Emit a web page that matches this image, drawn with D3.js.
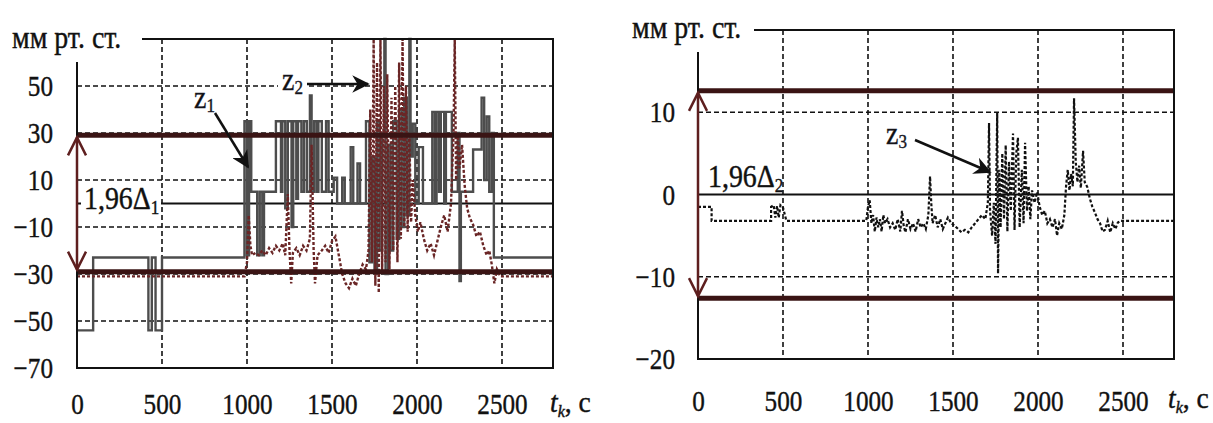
<!DOCTYPE html>
<html>
<head>
<meta charset="utf-8">
<script src="https://cdn.jsdelivr.net/npm/d3@7"></script>
<style>
  body { margin: 0; background: #fff; }
  svg text { font-family: "Liberation Serif", "Times New Roman", serif !important; fill: #111; }
</style>
</head>
<body>
<svg id="chart" width="1213" height="423"></svg>
<script>
// ---- data (t in seconds, pressure in mm Hg) ----
const xTicks = [0, 500, 1000, 1500, 2000, 2500];
const leftYTicks = [-70, -50, -30, -10, 10, 30, 50];
const rightYTicks = [-20, -10, 0, 10];

// confidence band +-1,96 delta
const band1 = 29;
const band2 = 12.6;

// z1 - solid grey step signal (left)
const z1Points = [
  [0,-54],[95,-54],[95,-23],[420,-23],[420,-54],[440,-54],[440,-23],[462,-23],[462,-54],[500,-54],[500,-23],[985,-23],
  [985,35],[1000,35],[1000,-22],[1012,-22],[1012,35],[1025,35],[1025,5],[1060,5],[1060,-22],[1075,-22],[1075,5],
  [1090,5],[1090,-22],[1100,-22],[1100,5],[1170,5],[1170,35],[1200,35],[1200,5],[1208,5],[1208,35],[1225,35],
  [1225,-2],[1240,-2],[1240,35],[1262,35],[1262,-10],[1272,-10],[1272,35],[1290,35],[1290,2],[1300,2],[1300,35],
  [1320,35],[1320,5],[1335,5],[1335,35],[1352,35],[1352,5],[1370,5],[1370,46],[1380,46],[1380,5],[1395,5],
  [1395,35],[1410,35],[1410,5],[1420,5],[1420,35],[1440,35],[1440,5],[1465,5],[1465,35],[1480,35],[1480,5],
  [1510,5],[1510,11],[1530,11],[1530,0],[1560,0],[1560,11],[1575,11],[1575,0],[1610,0],[1610,24],[1625,24],
  [1625,0],[1650,0],[1650,17],[1665,17],[1665,0],[1700,0],[1700,35],[1720,35],[1720,-25],[1735,-25],[1735,20],
  [1750,20],[1750,-28],[1765,-28],[1765,35],[1780,35],[1780,-20],[1795,-20],[1795,30],[1808,30],[1808,70],
  [1815,70],[1815,-30],[1830,-30],[1830,25],[1845,25],[1845,-20],[1860,-20],[1860,35],[1880,35],[1880,-15],
  [1895,-15],[1895,40],[1910,40],[1910,-10],[1925,-10],[1925,45],[1940,45],[1940,-5],[1955,-5],[1955,70],
  [1962,70],[1962,20],[1975,20],[1975,34],[1990,34],[1990,0],[2010,0],[2010,24],[2035,24],[2035,0],[2090,0],
  [2090,39],[2105,39],[2105,0],[2115,0],[2115,39],[2130,39],[2130,5],[2140,5],[2140,39],[2160,39],[2160,0],
  [2170,0],[2170,39],[2205,39],[2205,5],[2240,5],[2240,30],[2250,30],[2250,-33],[2258,-33],[2258,5],[2330,5],
  [2330,23],[2380,23],[2380,45],[2395,45],[2395,10],[2410,10],[2410,37],[2425,37],[2425,5],[2440,5],[2440,30],
  [2452,30],[2452,-23],[2800,-23]
];

// z2 - dotted maroon signal (left)
const z2Points = [
  [0,-31],[985,-31],[1000,-25],[1010,-5],[1020,-18],[1030,-22],[1050,-21],[1070,-22],[1090,-20],[1110,-22],
  [1130,-19],[1150,-21],[1170,-18],[1190,-20],[1210,-17],[1225,-22],[1240,4],[1250,-20],[1260,-34],[1270,-21],
  [1290,-19],[1310,-22],[1330,-18],[1350,-20],[1370,-15],[1380,25],[1392,-20],[1400,-34],[1415,-22],[1440,-20],
  [1460,-18],[1480,-21],[1500,-16],[1520,-14],[1540,-22],[1560,-30],[1580,-34],[1600,-36],[1620,-32],[1640,-35],
  [1660,-30],[1680,-26],[1700,-28],[1715,-20],[1725,40],[1735,-25],[1745,70],[1755,-35],[1765,60],[1775,-38],
  [1785,70],[1795,-30],[1805,50],[1815,-25],[1825,55],[1838,-28],[1850,45],[1860,-20],[1872,50],[1885,-25],
  [1895,60],[1905,-15],[1915,70],[1925,-10],[1935,50],[1945,-12],[1955,30],[1965,-8],[1975,10],[1990,-5],
  [2005,-12],[2020,-8],[2040,-15],[2060,-20],[2080,-17],[2100,-22],[2120,-16],[2140,-10],[2160,-5],[2180,-12],
  [2200,0],[2215,30],[2222,70],[2230,10],[2240,30],[2250,15],[2265,25],[2280,8],[2295,-2],[2310,-6],[2330,-9],
  [2350,-14],[2370,-12],[2390,-18],[2410,-22],[2425,-20],[2440,-26],[2455,-34],[2470,-28],[2490,-31],[2800,-31]
];

// z3 - dashed black signal (right)
const z3Points = [
  [0,-1.5],[80,-1.5],[80,-3.2],[430,-3.2],[430,-1.5],[445,-1.3],[455,-2.8],[465,-1.4],[475,-2.8],[485,-1.3],
  [500,-1.6],[520,-3.2],[990,-3.2],[1000,-1.5],[1010,-0.7],[1020,-3.5],[1030,-2.5],[1040,-4.5],[1050,-2.8],
  [1060,-4],[1070,-3],[1080,-4.5],[1090,-2.5],[1100,-3.5],[1115,-3],[1130,-4],[1145,-3.5],[1160,-4.3],[1175,-3],
  [1190,-4.5],[1200,-2],[1210,-3.8],[1220,-4.6],[1235,-3],[1250,-4.2],[1265,-3.5],[1280,-4.5],[1295,-3],
  [1310,-4],[1325,-3.5],[1340,-4.2],[1355,-2.5],[1365,2.2],[1372,-1],[1380,-3.5],[1395,-2.5],[1410,-4],
  [1425,-3],[1440,-4.2],[1455,-3.5],[1470,-2.8],[1490,-3.5],[1510,-3.8],[1530,-4.2],[1550,-4.6],[1570,-4.3],
  [1590,-4.6],[1610,-4],[1630,-3.5],[1650,-3],[1670,-2.5],[1690,-3],[1705,-1],[1712,8.7],[1718,-2],[1730,-5],
  [1740,-1],[1750,-6],[1760,9.9],[1765,-9.6],[1772,3],[1780,-4],[1790,5],[1800,-3],[1810,6],[1820,-4.5],
  [1830,4],[1840,-2],[1853,7.4],[1862,-4.3],[1872,5],[1882,6.9],[1892,-4],[1905,3],[1915,-3.5],[1924,6.3],
  [1935,-2],[1945,1],[1955,-3],[1965,0.5],[1980,-1],[1995,0.3],[2010,-1.5],[2025,-2.5],[2040,-2],[2055,-3.5],
  [2070,-3],[2085,-4],[2100,-3],[2112,-5],[2125,-3.5],[2140,-4.2],[2155,-2.5],[2165,1],[2175,3],[2185,0.5],
  [2195,2.5],[2205,1],[2212,11.7],[2222,4],[2232,1.5],[2242,3.5],[2252,0.8],[2265,5.3],[2275,1.5],[2290,0.9],
  [2305,-0.5],[2320,-1.5],[2335,-2.2],[2350,-3],[2365,-3.5],[2380,-4.5],[2394,-4.3],[2410,-3.2],[2425,-4.6],
  [2440,-3.5],[2455,-4.2],[2470,-3.4],[2485,-3.2],[2800,-3.2]
];

const svg = d3.select("#chart");
const serif = "Liberation Serif, Times New Roman, serif";
const bandColor = "#3a1414";
const arrowColor = "#5e1f1f";
// the scanned figure's lettering is a bit narrow and tall
const squeeze = 0.84;

svg.append("defs").append("marker")
  .attr("id", "head")
  .attr("viewBox", "0 0 10 10")
  .attr("refX", 9).attr("refY", 5)
  .attr("markerWidth", 7).attr("markerHeight", 7)
  .attr("orient", "auto-start-reverse")
  .append("path")
  .attr("d", "M0,0 L10,5 L0,10 L3,5 Z")
  .attr("fill", "#111");

// text placed at (x, y) but narrowed around its anchor
function narrowText(parent, x, y, size, sx) {
  return parent.append("text")
    .attr("transform", `translate(${x},${y}) scale(${sx || squeeze},1)`)
    .attr("font-size", size)
    .attr("stroke", "#111").attr("stroke-width", 0.4);
}

/**
 * one panel: frame, grid, series, band, labels
 */
function drawPanel(p) {
  const x = d3.scaleLinear().domain([0, 2800]).range(p.xRange);
  const y = d3.scaleLinear().domain(p.yDomain).range(p.yRange);
  const g = svg.append("g").attr("font-family", serif);
  const [x0, x1] = p.xRange;
  const [yb, yt] = p.yRange;

  // dashed grid
  g.selectAll(".vg").data(xTicks.slice(1)).join("line")
    .attr("x1", d => x(d)).attr("x2", d => x(d))
    .attr("y1", yt).attr("y2", yb)
    .attr("stroke", "#111").attr("stroke-width", 1.6).attr("stroke-dasharray", "5,3");
  g.selectAll(".hg").data(p.grid).join("line")
    .attr("x1", x0).attr("x2", x1)
    .attr("y1", d => y(d)).attr("y2", d => y(d))
    .attr("stroke", "#111").attr("stroke-width", 1.6).attr("stroke-dasharray", "5,3");

  // mean line
  g.append("line")
    .attr("x1", x0).attr("x2", x1).attr("y1", y(0)).attr("y2", y(0))
    .attr("stroke", "#111").attr("stroke-width", 2);

  const line = d3.line().x(d => x(d[0])).y(d => y(d[1]));
  p.series.forEach(s => {
    g.append("path").datum(s.points)
      .attr("fill", "none")
      .attr("stroke", s.color)
      .attr("stroke-width", s.width)
      .attr("stroke-dasharray", s.dash || null)
      .attr("d", line);
  });

  // confidence band
  g.selectAll(".band").data([p.band, -p.band]).join("line")
    .attr("x1", x0).attr("x2", x1)
    .attr("y1", d => y(d)).attr("y2", d => y(d))
    .attr("stroke", bandColor).attr("stroke-width", 5);

  // frame
  g.append("rect")
    .attr("x", x0).attr("y", yt).attr("width", x1 - x0).attr("height", yb - yt)
    .attr("fill", "none").attr("stroke", "#111").attr("stroke-width", 2);

  // axes (labels only)
  const yAxis = g.append("g").attr("transform", `translate(${x0},0)`)
    .call(d3.axisLeft(y).tickValues(p.yTicks).tickSize(0).tickPadding(p.yPad).tickFormat(d3.format("d")));
  const xAxis = g.append("g").attr("transform", `translate(0,${yb})`)
    .call(d3.axisBottom(x).tickValues(xTicks).tickSize(0).tickPadding(p.xPad).tickFormat(d3.format("d")));
  [yAxis, xAxis].forEach(a => {
    a.attr("font-family", serif).attr("font-size", 30);
    a.select(".domain").remove();
    a.selectAll("text").attr("fill", "#111")
      .attr("stroke", "#111").attr("stroke-width", 0.4)
      .attr("transform", function () {
        const tx = +this.getAttribute("x") || 0;
        return `translate(${tx},0) scale(${squeeze},1) translate(${-tx},0)`;
      });
  });

  // unit label with white box
  g.append("rect").attr("x", p.unit[0] - 8).attr("y", p.unit[1] - 22)
    .attr("width", p.unitBox).attr("height", p.unitH).attr("fill", "#fff");
  narrowText(g, p.unit[0], p.unit[1], 31, 0.9).text("мм рт. ст.");

  // x label
  const tl = narrowText(g, p.tLabel[0], p.tLabel[1], 29, 0.95);
  tl.append("tspan").attr("font-style", "italic").text("t");
  tl.append("tspan").attr("font-style", "italic").attr("font-size", 17).attr("dy", 5).text("k");
  tl.append("tspan").attr("dy", -5).text(", c");

  // 1,96 delta label
  g.append("rect").attr("x", x0 + 4).attr("y", p.delta[1] - 25)
    .attr("width", p.deltaBox).attr("height", 31).attr("fill", "#fff");
  const dl = narrowText(g, p.delta[0], p.delta[1], 31, 0.9);
  dl.append("tspan").text("1,96Δ");
  dl.append("tspan").attr("font-size", 19).attr("dy", 5).text(p.deltaSub);

  // double arrow of band width
  g.append("line")
    .attr("x1", x0).attr("x2", x0).attr("y1", y(p.band) + 2).attr("y2", y(-p.band) - 2)
    .attr("stroke", arrowColor).attr("stroke-width", 2.5);
  [[y(p.band) + 2, 1], [y(-p.band) - 2, -1]].forEach(([ty, dir]) => {
    g.append("path")
      .attr("d", `M${x0 - 9},${ty + dir * 18} L${x0},${ty} L${x0 + 9},${ty + dir * 18}`)
      .attr("fill", "none").attr("stroke", arrowColor).attr("stroke-width", 2.5);
  });

  // z labels with arrows
  p.zLabels.forEach(z => {
    g.append("rect").attr("x", z.at[0] - 4).attr("y", z.at[1] - 20)
      .attr("width", 30).attr("height", 28).attr("fill", "#fff");
    const t = narrowText(g, z.at[0], z.at[1], 31, 0.9).attr("fill", "#223").attr("stroke", "#223");
    t.append("tspan").text("z");
    t.append("tspan").attr("font-size", 19).attr("dy", 4).text(z.sub);
    g.append("line")
      .attr("x1", z.from[0]).attr("y1", z.from[1]).attr("x2", z.to[0]).attr("y2", z.to[1])
      .attr("stroke", "#111").attr("stroke-width", 2.5).attr("marker-end", "url(#head)");
  });
}

drawPanel({
  xRange: [77, 553], yDomain: [-70, 70], yRange: [368, 39],
  grid: [-50, -30, -10, 10, 30, 50], yTicks: leftYTicks, yPad: 24, xPad: 25,
  band: band1,
  series: [
    { points: z1Points, color: "#4d4d4d", width: 2.4 },
    { points: z2Points, color: "#6a2626", width: 2.4, dash: "3,2" }
  ],
  unit: [12, 48], unitBox: 138, unitH: 36,
  tLabel: [550, 412],
  delta: [84, 209], deltaSub: "1", deltaBox: 80,
  zLabels: [
    { sub: "1", at: [194, 108], from: [215, 113], to: [248, 167] },
    { sub: "2", at: [282, 90], from: [307, 84], to: [368, 84] }
  ]
});

drawPanel({
  xRange: [698, 1174], yDomain: [-20, 20], yRange: [359, 30],
  grid: [-10, 10], yTicks: rightYTicks, yPad: 23, xPad: 31,
  band: band2,
  series: [
    { points: z3Points, color: "#111", width: 2.2, dash: "3,2" }
  ],
  unit: [632, 38], unitBox: 130, unitH: 36,
  tLabel: [1168, 408],
  delta: [708, 187], deltaSub: "2", deltaBox: 78,
  zLabels: [
    { sub: "3", at: [886, 144], from: [915, 140], to: [990, 172] }
  ]
});
</script>
</body>
</html>
